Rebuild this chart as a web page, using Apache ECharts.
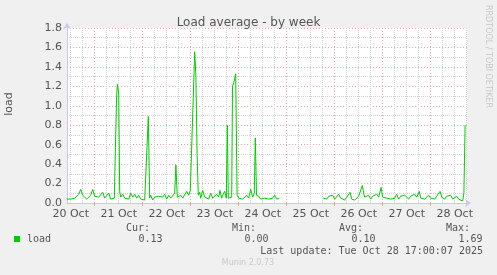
<!DOCTYPE html>
<html><head><meta charset="utf-8">
<script src="https://cdn.jsdelivr.net/npm/echarts@6/dist/echarts.min.js"></script>
<style>html,body{margin:0;padding:0;background:#f0f0f0}#c{width:497px;height:275px}</style>
</head><body><div id="c"></div>
<script>
// hours since 20 Oct 00:00
const hours = [10,11,12,13,14,15,16,17,18,19,20,21,22,23,24,25,26,27,28,29,30,31,32,33,33.8,
34.5,35,35.4,36,36.5,37,38,38.6,39,40,41,42,43,44,45,46,47,48,49,50,50.8,51.5,52,53,54,55,56,57,58,59,60,61,62,63,64,64.6,65.3,66,67,68,69,70,71,71.8,72.5,73.3,74,74.6,75.2,75.8,76.5,77,78,79,80,81,82,83,84,85,86,86.6,87.5,88,89,89.8,90.3,90.8,91.5,92.5,92.9,93.6,94.5,95.2,96,97,98,99,100,101,102,103,103.8,104.3,104.9,105.5,106,107,108,109,110,111,112,113,114,114.5,115,116,116.3,
117,
138.2,139,140,141,142,143,144,145,146,147,148,149,150,151,151.7,152.5,153,154,155,156,157,157.8,158.6,159,160,161,162,163,164,165,166,167.2,168,169,170,171,172,173,174,175,176,177,178,179,180,181,182,183,184,185,186.3,187,188,189,190,191,192,193,194,195,196.7,197.5,198,199,200,201,202,203,204,205,206,207,208,208.6,209.2];
const load = [0.04,0.05,0.04,0.06,0.05,0.07,0.09,0.14,0.08,0.06,0.04,0.05,0.08,0.14,0.07,0.09,0.06,0.08,0.11,0.05,0.07,0.10,0.04,0.06,0.05,
0.70,1.12,1.22,1.12,0.12,0.06,0.09,0.11,0.05,0.07,0.04,0.10,0.06,0.09,0.05,0.08,0.04,0.06,0.03,0.04,0.89,0.05,0.08,0.03,0.06,0.04,0.07,0.05,0.06,0.09,0.04,0.08,0.05,0.06,0.10,0.39,0.06,0.04,0.08,0.05,0.07,0.12,0.08,0.13,0.12,1.10,1.556,1.30,0.50,0.08,0.11,0.05,0.13,0.06,0.08,0.04,0.10,0.05,0.07,0.09,0.06,0.13,0.05,0.08,0.12,0.05,0.80,0.05,0.03,0.06,1.20,1.24,1.33,0.08,0.05,0.07,0.04,0.06,0.08,0.05,0.14,0.06,0.10,0.67,0.08,0.06,0.07,0.04,0.06,0.05,0.07,0.04,0.06,0.05,0.08,0.10,0.04,0.06,0.05,
null,
0.05,0.06,0.04,0.07,0.05,0.08,0.04,0.06,0.09,0.05,0.07,0.03,0.06,0.08,0.11,0.04,0.06,0.03,0.05,0.07,0.05,0.18,0.09,0.06,0.05,0.08,0.04,0.07,0.05,0.09,0.06,0.16,0.06,0.08,0.05,0.07,0.04,0.06,0.05,0.09,0.04,0.07,0.05,0.08,0.06,0.04,0.07,0.05,0.09,0.06,0.12,0.05,0.07,0.04,0.06,0.08,0.05,0.07,0.04,0.06,0.12,0.06,0.08,0.04,0.07,0.05,0.08,0.04,0.06,0.07,0.04,0.03,0.02,0.10,0.80];
const dayLabels = ['20 Oct','21 Oct','22 Oct','23 Oct','24 Oct','25 Oct','26 Oct','27 Oct','28 Oct'];
const yTicks = [0,0.2,0.4,0.6,0.8,1.0,1.2,1.4,1.6,1.8];
const statNames = ['Cur:','Min:','Avg:','Max:'];
const statValues = ['0.13','0.00','0.10','1.69'];
const seriesName = 'load';
const lastUpdate = 'Last update: Tue Oct 28 17:00:07 2025';

const xMin = 10.15, xMax = 210.15;
const noons = dayLabels.map((d,i)=>12+24*i);
const midnights = dayLabels.map((d,i)=>24*(i+1)).filter(v=>v<xMax);
const sixHours = [];
for (let h=6; h<xMax; h+=6) if (h%24!==0 && h>xMin) sixHours.push(h);

const mono = 'DejaVu Sans Mono';
const sans = 'DejaVu Sans';
const axisCol = '#c8c8f0';
const majorCol = '#eca4a4';
const minorCol = '#d2d2d2';
const chart = echarts.init(document.getElementById('c'));
const statX = [150,256,363,470];
const g = [];
statNames.forEach((n,i)=>{
  g.push({type:'text',x:statX[i],y:228,style:{text:n,font:'10px '+mono,fill:'#555',align:'right',verticalAlign:'middle'}});
  g.push({type:'text',x:statX[i]+12.5,y:239.5,style:{text:statValues[i],font:'10px '+mono,fill:'#555',align:'right',verticalAlign:'middle'}});
});
g.push({type:'rect',shape:{x:14,y:236,width:6,height:6},style:{fill:'#00cc00'}});
g.push({type:'text',x:27,y:239.5,style:{text:seriesName,font:'10px '+mono,fill:'#555',align:'left',verticalAlign:'middle'}});
g.push({type:'text',x:483,y:251,style:{text:lastUpdate,font:'10px '+mono,fill:'#555',align:'right',verticalAlign:'middle'}});
g.push({type:'text',x:248,y:263,style:{text:'Munin 2.0.73',font:'8px '+sans,fill:'#c8c8c8',align:'center',verticalAlign:'middle'}});
g.push({type:'text',x:488,y:5,rotation:-Math.PI/2,style:{text:'RRDTOOL / TOBI OETIKER',font:'8px '+sans,fill:'#c8c8c8',align:'left',verticalAlign:'middle'}});
g.push({type:'text',x:9,y:104,rotation:Math.PI/2,style:{text:'load',font:'11px '+sans,fill:'#555',align:'center',verticalAlign:'middle'}});

chart.setOption({
  backgroundColor:'#f0f0f0',
  animation:false,
  title:{text:'Load average - by week',left:'center',top:12,textStyle:{fontFamily:sans,fontSize:12,fontWeight:'normal',color:'#555'}},
  grid:{left:67,right:30,top:28,bottom:72,show:true,backgroundColor:'#ffffff',borderWidth:0,containLabel:false},
  xAxis:[
    {type:'value',min:xMin,max:xMax,position:'bottom',
     axisLine:{show:false},axisLabel:{show:false},
     axisTick:{show:false,customValues:sixHours},
     splitLine:{show:true,lineStyle:{color:minorCol,type:[1,1],width:1}}},
    {type:'value',min:xMin,max:xMax,position:'bottom',
     axisLine:{show:true,lineStyle:{color:axisCol,width:1},symbol:['none','arrow'],symbolSize:[6,6],symbolOffset:[0,4]},
     axisTick:{show:true,length:3,customValues:midnights,lineStyle:{color:majorCol}},
     axisLabel:{show:true,customValues:noons,margin:6,fontFamily:sans,fontSize:11,color:'#555',
       formatter:v=>dayLabels[Math.round((v-12)/24)]},
     splitLine:{show:true,lineStyle:{color:majorCol,type:[1,2],width:1}}}
  ],
  yAxis:{type:'value',min:0,max:1.8,interval:0.2,
    axisLine:{show:true,lineStyle:{color:axisCol,width:1},symbol:['none','arrow'],symbolSize:[6,6],symbolOffset:[0,5]},
    axisTick:{show:false},
    axisLabel:{margin:5,fontFamily:sans,fontSize:11,color:'#555',formatter:v=>yTicks.reduce((a,b)=>Math.abs(b-v)<Math.abs(a-v)?b:a).toFixed(1)},
    splitLine:{show:true,lineStyle:{color:majorCol,type:[1,2],width:1}},
    minorTick:{show:false,splitNumber:2},
    minorSplitLine:{show:true,lineStyle:{color:minorCol,type:[1,1],width:1}}},
  series:[{type:'line',name:seriesName,xAxisIndex:1,showSymbol:false,connectNulls:false,
    lineStyle:{color:'#00cc00',width:1},itemStyle:{color:'#00cc00'},
    data:hours.map((h,i)=>[h,load[i]])}],
  graphic:g
});
</script></body></html>
